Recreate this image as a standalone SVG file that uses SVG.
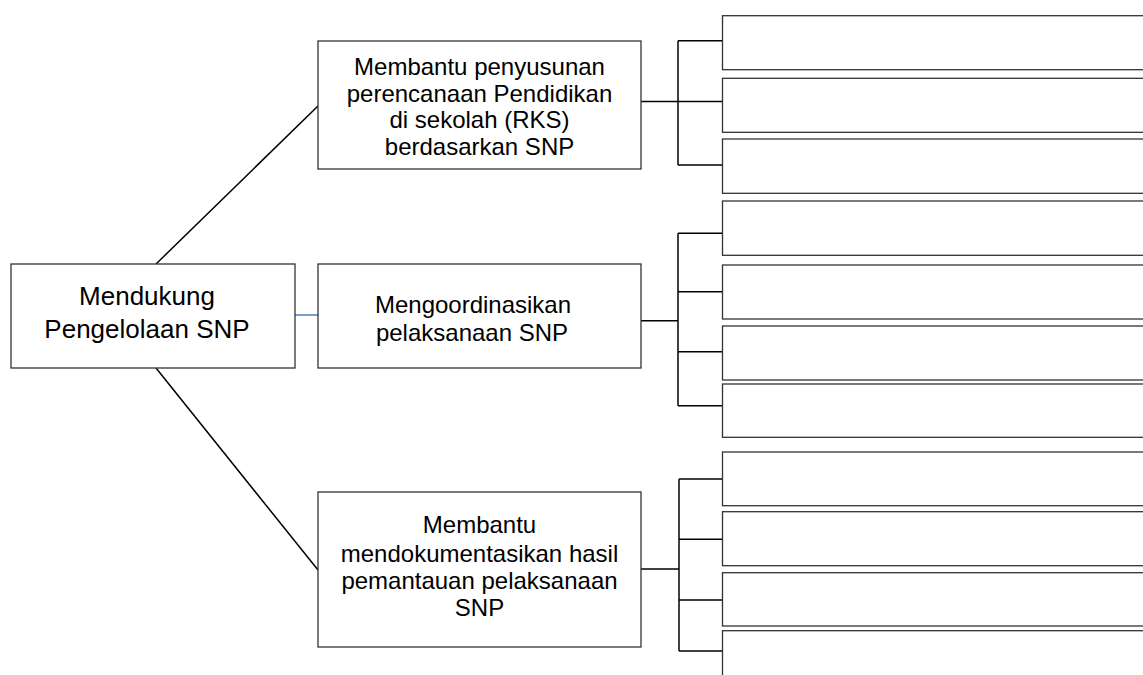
<svg xmlns="http://www.w3.org/2000/svg" width="1143" height="675" viewBox="0 0 1143 675">
<style>
.box{fill:#fff;stroke:#333;stroke-width:1.3}
.ln{fill:none;stroke:#000;stroke-width:1.5}
.blue{fill:none;stroke:#4a7ebb;stroke-width:1.5}
.t{font-family:"Liberation Sans",Arial,sans-serif;font-size:24px;fill:#000;text-anchor:middle}
.big{font-size:26px}
</style>
<rect width="1143" height="675" fill="#fff"/>
<g id="connectors">
<line class="ln" x1="156" y1="264" x2="318" y2="106"/>
<line class="ln" x1="156" y1="368" x2="318" y2="570"/>
<line class="blue" x1="295" y1="315" x2="318" y2="315"/>
<polyline class="ln" points="641,101.5 678,101.5"/>
<line class="ln" x1="678" y1="40.7" x2="678" y2="165"/>
<line class="ln" x1="678" y1="40.7" x2="722" y2="40.7"/>
<line class="ln" x1="678" y1="101.5" x2="722" y2="101.5"/>
<line class="ln" x1="678" y1="165" x2="722" y2="165"/>
<line class="ln" x1="641" y1="320.7" x2="678" y2="320.7"/>
<line class="ln" x1="678" y1="233.3" x2="678" y2="405.7"/>
<line class="ln" x1="678" y1="233.3" x2="722" y2="233.3"/>
<line class="ln" x1="678" y1="291.7" x2="722" y2="291.7"/>
<line class="ln" x1="678" y1="351.7" x2="722" y2="351.7"/>
<line class="ln" x1="678" y1="405.7" x2="722" y2="405.7"/>
<line class="ln" x1="641" y1="569" x2="679" y2="569"/>
<line class="ln" x1="679" y1="479" x2="679" y2="651"/>
<line class="ln" x1="679" y1="479" x2="722" y2="479"/>
<line class="ln" x1="679" y1="539.3" x2="722" y2="539.3"/>
<line class="ln" x1="679" y1="600" x2="722" y2="600"/>
<line class="ln" x1="679" y1="651" x2="722" y2="651"/>
</g>
<g id="root">
<rect class="box" x="11" y="264" width="284" height="104"/>
<text class="t big" x="147" y="305">Mendukung</text>
<text class="t big" x="147" y="338">Pengelolaan SNP</text>
</g>
<g id="n1">
<rect class="box" x="318" y="41" width="323" height="128"/>
<text class="t" x="479.5" y="75">Membantu penyusunan</text>
<text class="t" x="479.5" y="101.7">perencanaan Pendidikan</text>
<text class="t" x="479.5" y="128.3">di sekolah (RKS)</text>
<text class="t" x="479.5" y="155">berdasarkan SNP</text>
</g>
<g id="n2">
<rect class="box" x="318" y="264" width="323" height="104"/>
<text class="t" x="473" y="313.3">Mengoordinasikan</text>
<text class="t" x="472" y="341">pelaksanaan SNP</text>
</g>
<g id="n3">
<rect class="box" x="318" y="492" width="323" height="155"/>
<text class="t" x="479.5" y="533.3">Membantu</text>
<text class="t" x="479.5" y="561.7">mendokumentasikan hasil</text>
<text class="t" x="479.5" y="589">pemantauan pelaksanaan</text>
<text class="t" x="479.5" y="616">SNP</text>
</g>
<g id="n1a"><rect class="box" x="722.5" y="15.7" width="430" height="54"/></g>
<g id="n1b"><rect class="box" x="722.5" y="78.3" width="430" height="54"/></g>
<g id="n1c"><rect class="box" x="722.5" y="139" width="430" height="54.3"/></g>
<g id="n2a"><rect class="box" x="722.5" y="201" width="430" height="54.3"/></g>
<g id="n2b"><rect class="box" x="722.5" y="265" width="430" height="54"/></g>
<g id="n2c"><rect class="box" x="722.5" y="326" width="430" height="54"/></g>
<g id="n2d"><rect class="box" x="722.5" y="384" width="430" height="53.3"/></g>
<g id="n3a"><rect class="box" x="722.5" y="452" width="430" height="53.7"/></g>
<g id="n3b"><rect class="box" x="722.5" y="511.7" width="430" height="54"/></g>
<g id="n3c"><rect class="box" x="722.5" y="572.7" width="430" height="53.3"/></g>
<g id="n3d"><rect class="box" x="722.5" y="630.7" width="430" height="60"/></g>
</svg>
